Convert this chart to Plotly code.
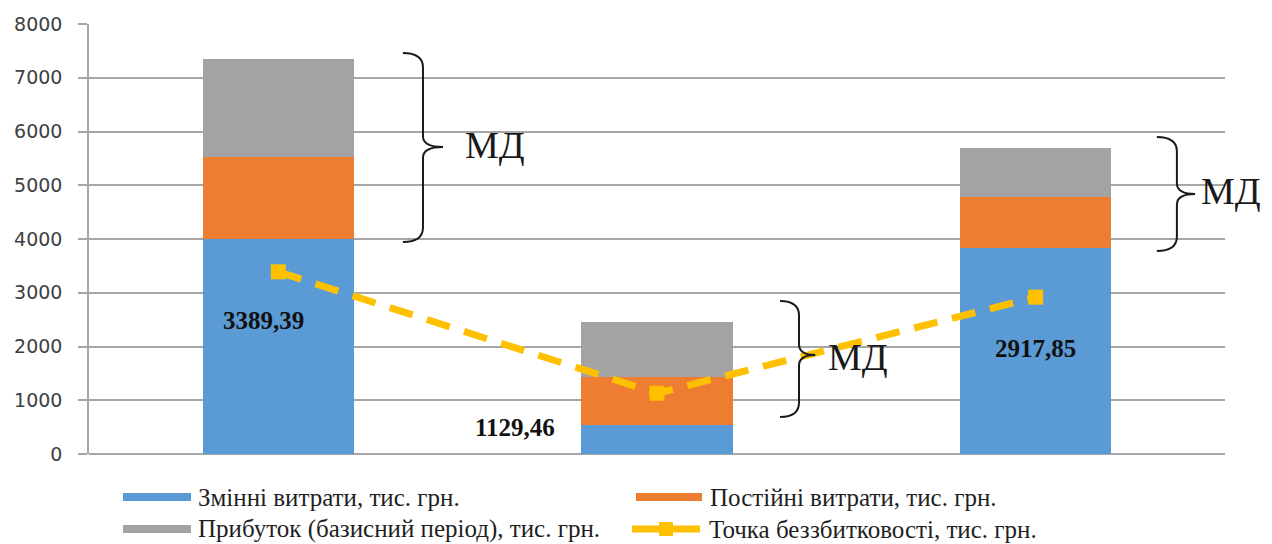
import plotly.graph_objects as go

# --- data -------------------------------------------------------------
periods = [0, 1, 2]
variable_costs = [3995, 545, 3830]      # Змінні витрати, тис. грн.
fixed_costs = [1535, 880, 950]          # Постійні витрати, тис. грн.
profit = [1820, 1025, 910]              # Прибуток (базисний період), тис. грн.
break_even = [3389.39, 1129.46, 2917.85]  # Точка беззбитковості, тис. грн.

series_names = [
    "Змінні витрати, тис. грн.",
    "Постійні витрати, тис. грн.",
    "Прибуток (базисний період), тис. грн.",
    "Точка беззбитковості, тис. грн.",
]
y_ticks = [0, 1000, 2000, 3000, 4000, 5000, 6000, 7000, 8000]
brace_label = "МД"

# --- styling ----------------------------------------------------------
BLUE = "#5B9BD5"
ORANGE = "#ED7D31"
GRAY = "#A3A3A3"
YELLOW = "#FFC000"
GRID = "#A6A6A6"

W, H = 1272, 544
ML, MR, MT, MB = 89, 47, 24, 90
PW, PH = W - ML - MR, H - MT - MB


def px(x):
    return (x - ML) / PW


def py(y):
    return (H - MB - y) / PH


fig = go.Figure()
for vals, name, col in [(variable_costs, series_names[0], BLUE),
                        (fixed_costs, series_names[1], ORANGE),
                        (profit, series_names[2], GRAY)]:
    fig.add_trace(go.Bar(x=periods, y=vals, name=name, width=0.4,
                         marker=dict(color=col, line=dict(width=0)),
                         showlegend=False))

fig.add_trace(go.Scatter(
    x=periods, y=break_even, name=series_names[3], mode="lines+markers",
    line=dict(color=YELLOW, width=7, dash="24px,15px"),
    marker=dict(symbol="square", size=15, color=YELLOW),
    showlegend=False))

# value labels for the break-even points
label_pos = [(-0.04, 2490), (0.625, 484), (2.0, 1970)]
for (lx, ly), v in zip(label_pos, break_even):
    fig.add_annotation(x=lx, y=ly, xref="x", yref="y", showarrow=False,
                       xanchor="center", yanchor="middle",
                       text="<b>" + f"{v:.2f}".replace(".", ",") + "</b>",
                       font=dict(family="Liberation Serif", size=25, color="#111111"))


# curly braces marking the safety margin
def brace(x0, x1, xt, ytop, ymid, ybot, ry=270, rt=200):
    return (f"M {x0},{ytop} Q {x1},{ytop} {x1},{ytop - ry} "
            f"L {x1},{ymid + rt} Q {x1},{ymid} {xt},{ymid} "
            f"Q {x1},{ymid} {x1},{ymid - rt} "
            f"L {x1},{ybot + ry} Q {x1},{ybot} {x0},{ybot}")


# brace geometry in data units, label centre in pixels
braces = [
    (0.329, 0.382, 0.435, 7460, 5712, 3944, (495, 145)),
    (1.325, 1.375, 1.418, 2847, 1842, 688, (858, 357)),
    (2.320, 2.373, 2.421, 5898, 4837, 3777, (1231, 191)),
]
for x0, x1, xt, yt, ym, yb, (tx, ty) in braces:
    fig.add_shape(type="path", xref="x", yref="y",
                  path=brace(x0, x1, xt, yt, ym, yb),
                  line=dict(color="#1A1A1A", width=2))
    fig.add_annotation(x=px(tx), y=py(ty), xref="paper", yref="paper",
                       xanchor="center", yanchor="middle",
                       showarrow=False, text=brace_label,
                       font=dict(family="Liberation Serif", size=38, color="#1A1A1A"))

# legend drawn below the plot
leg_font = dict(family="Liberation Serif", size=25, color="#1F1F1F")
ROW1, ROW2 = 497, 529
leg_items = [
    (123, 191, ROW1, BLUE, series_names[0], 196),
    (636, 702, ROW1, ORANGE, series_names[1], 708),
    (123, 191, ROW2, GRAY, series_names[2], 196),
]
for xa, xb, yc, col, name, tx in leg_items:
    fig.add_shape(type="rect", xref="paper", yref="paper",
                  x0=px(xa), x1=px(xb), y0=py(yc + 4), y1=py(yc - 4),
                  fillcolor=col, line=dict(width=0))
    fig.add_annotation(x=px(tx), y=py(yc), xref="paper", yref="paper",
                       xanchor="left", yanchor="middle", showarrow=False,
                       text=name, font=leg_font)
fig.add_shape(type="line", xref="paper", yref="paper",
              x0=px(632), x1=px(700), y0=py(ROW2), y1=py(ROW2),
              line=dict(color=YELLOW, width=7))
fig.add_shape(type="rect", xref="paper", yref="paper",
              x0=px(659), x1=px(673), y0=py(ROW2 + 7), y1=py(ROW2 - 7),
              fillcolor=YELLOW, line=dict(width=0))
fig.add_annotation(x=px(707), y=py(ROW2), xref="paper", yref="paper",
                   xanchor="left", yanchor="middle", showarrow=False,
                   text=series_names[3], font=leg_font)

fig.update_layout(
    barmode="stack",
    width=W, height=H,
    margin=dict(l=ML, r=MR, t=MT, b=MB, pad=0),
    paper_bgcolor="white", plot_bgcolor="white",
    showlegend=False,
    xaxis=dict(range=[-0.5, 2.5], showticklabels=False, showgrid=False,
               zeroline=False, showline=False, ticks=""),
    yaxis=dict(range=[0, 8000], tickvals=y_ticks, showgrid=True,
               gridcolor=GRID, gridwidth=1.5, zeroline=True,
               zerolinecolor=GRID, zerolinewidth=1.5,
               showline=True, linecolor=GRID, linewidth=1.5,
               ticks="outside", ticklen=9, tickcolor=GRID, tickwidth=1.5,
               ticklabelstandoff=12,
               tickfont=dict(family="DejaVu Sans", size=19, color="#404040")),
)

fig.write_html("out.html")
